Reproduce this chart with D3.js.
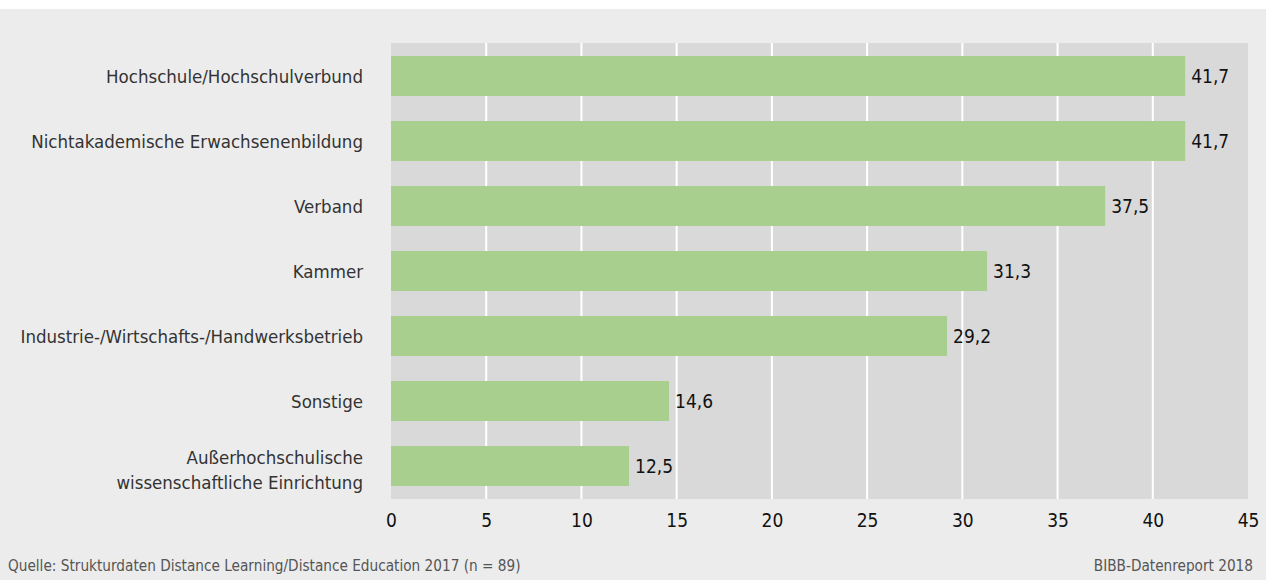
<!DOCTYPE html>
<html><head><meta charset="utf-8">
<script src="https://cdn.jsdelivr.net/npm/d3@7"></script>
<style>
html,body{margin:0;padding:0;background:#fff;}
text{font-family:"DejaVu Sans Condensed",sans-serif;}
</style></head>
<body>
<svg id="c" width="1266" height="580"></svg>
<script>
const categories = ["Hochschule/Hochschulverbund","Nichtakademische Erwachsenenbildung","Verband","Kammer","Industrie-/Wirtschafts-/Handwerksbetrieb","Sonstige","Außerhochschulische\nwissenschaftliche Einrichtung"];
const values = [41.7,41.7,37.5,31.3,29.2,14.6,12.5];
const ticks = [0,5,10,15,20,25,30,35,40,45];
const source = "Quelle: Strukturdaten Distance Learning/Distance Education 2017 (n = 89)";
const credit = "BIBB-Datenreport 2018";

const svg = d3.select("#c");
const W=1266,H=580;
svg.append("rect").attr("x",0).attr("y",9).attr("width",W).attr("height",H-9).attr("fill","#ececec");
const m={l:391,r:1248,t:43,b:499};
const x=d3.scaleLinear().domain([0,45]).range([m.l,m.r]);
const y=d3.scaleBand().domain(categories).range([m.t,m.b]).paddingInner(0.385).paddingOuter(0.2);
svg.append("rect").attr("x",m.l).attr("y",m.t).attr("width",m.r-m.l).attr("height",m.b-m.t).attr("fill","#d9d9d9");
svg.append("g").selectAll("line").data(ticks.filter(t=>t>0&&t<45)).join("line")
  .attr("x1",d=>x(d)).attr("x2",d=>x(d)).attr("y1",m.t).attr("y2",m.b)
  .attr("stroke","#fff").attr("stroke-width",2);
svg.append("g").selectAll("rect").data(values).join("rect")
  .attr("x",x(0)).attr("y",(d,i)=>y(categories[i])).attr("height",y.bandwidth())
  .attr("width",d=>x(d)-x(0)).attr("fill","#a9cf8e");
svg.append("g").selectAll("text").data(values).join("text")
  .attr("x",d=>x(d)+6).attr("y",(d,i)=>y(categories[i])+y.bandwidth()/2).attr("dy","0.38em")
  .attr("font-size",19).attr("fill","#111").text(d=>d.toFixed(1).replace(".",","));
// category labels
const lab=svg.append("g");
categories.forEach(c=>{
  const lines=c.split("\n");
  const cy=y(c)+y.bandwidth()/2 + (lines.length>1?3:0);
  const t=lab.append("text").attr("x",363).attr("text-anchor","end").attr("font-size",18.5).attr("fill","#333");
  lines.forEach((l,j)=>{
    t.append("tspan").attr("x",363).attr("y",cy+(j-(lines.length-1)/2)*25).attr("dy","0.38em").text(l);
  });
});
// x axis
const ax=d3.axisBottom(x).tickValues(ticks).tickSize(0).tickPadding(15).tickFormat(d=>d);
const g=svg.append("g").attr("transform",`translate(0,${m.b})`).call(ax);
g.select(".domain").remove();
g.selectAll("text").attr("font-size",19).attr("fill","#111").attr("font-family","DejaVu Sans Condensed, sans-serif");
svg.append("text").attr("x",8).attr("y",571).attr("font-size",15.2).attr("fill","#555").text(source);
svg.append("text").attr("x",1253).attr("y",571).attr("text-anchor","end").attr("font-size",15.2).attr("fill","#555").text(credit);
</script>
</body></html>
